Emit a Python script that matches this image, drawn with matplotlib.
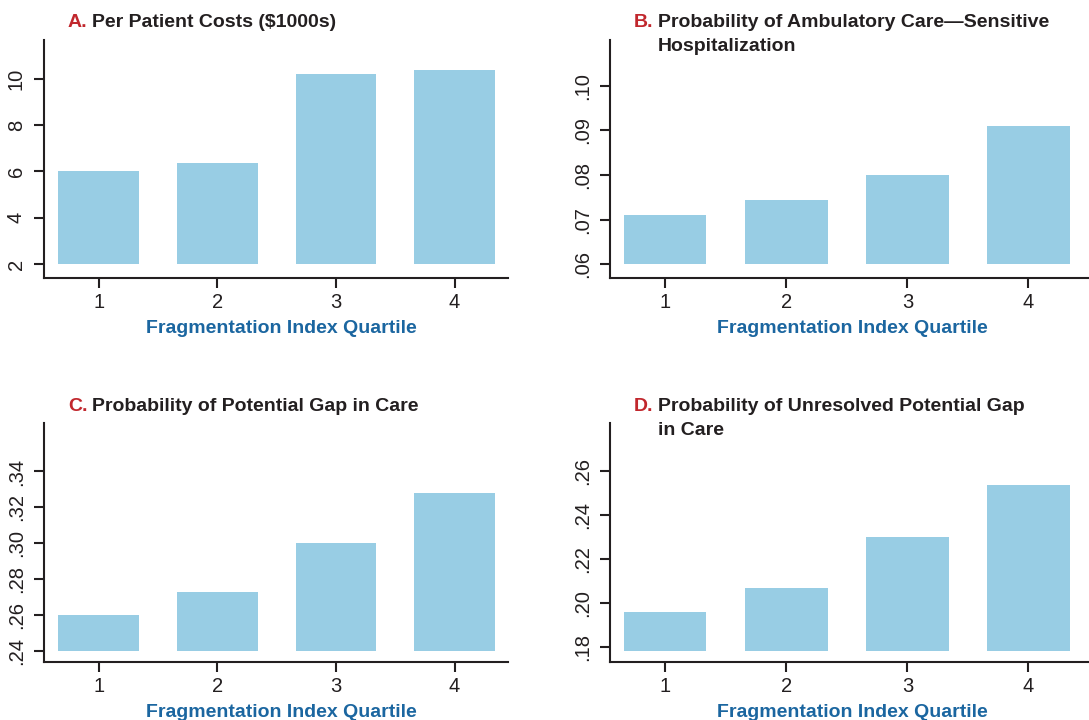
import numpy as np
import matplotlib
matplotlib.use("Agg")
import matplotlib.pyplot as plt

plt.rcParams["font.family"] = ["Liberation Sans", "DejaVu Sans"]

# data
quartiles = [1, 2, 3, 4]
costs = [6.0, 6.35, 10.2, 10.37]
acsh = [0.0710, 0.0744, 0.0800, 0.0911]
gap = [0.260, 0.273, 0.300, 0.328]
unresolved = [0.196, 0.207, 0.230, 0.254]

panels = [
    dict(letter="A.", title=["Per Patient Costs ($1000s)"], vals=costs, base=2,
         yticks=[2, 4, 6, 8, 10], ylim=(1.4, 11.67), fmt="int"),
    dict(letter="B.", title=["Probability of Ambulatory Care\u2014Sensitive", "Hospitalization"],
         vals=acsh, base=0.06, yticks=[0.06, 0.07, 0.08, 0.09, 0.10],
         ylim=(0.0569, 0.1103), fmt="dec"),
    dict(letter="C.", title=["Probability of Potential Gap in Care"], vals=gap, base=0.24,
         yticks=[0.24, 0.26, 0.28, 0.30, 0.32, 0.34], ylim=(0.2339, 0.367), fmt="dec"),
    dict(letter="D.", title=["Probability of Unresolved Potential Gap", "in Care"],
         vals=unresolved, base=0.1785, yticks=[0.18, 0.20, 0.22, 0.24, 0.26],
         ylim=(0.1734, 0.282), fmt="dec"),
]

BAR = "#98cde4"
DARK = "#231f20"
RED = "#c1272d"
BLUE = "#1b66a0"

W, H = 1089, 720
fig = plt.figure(figsize=(W / 100, H / 100), dpi=100)

# axes boxes in pixels: left, top, right, bottom
boxes = [(44, 40, 508, 278), (610, 40, 1089, 278),
         (44, 423, 508, 662), (610, 423, 1089, 662)]
xlims = [(0.54, 4.45), (0.543, 4.50), (0.54, 4.45), (0.543, 4.50)]
# title anchor (letter x, text x, first baseline) in pixels
title_pos = [(68, 92.5, 27), (634, 657.5, 27), (68, 92.5, 411), (634, 657.5, 411)]
xlabel_x = [0.512, 0.505, 0.512, 0.505]


def px(x, y):
    return x / W, 1 - y / H


for p, box, xl, tp, lx_frac in zip(panels, boxes, xlims, title_pos, xlabel_x):
    l, t, r, b = box
    ax = fig.add_axes([l / W, 1 - b / H, (r - l) / W, (b - t) / H])
    heights = np.array(p["vals"]) - p["base"]
    ax.bar(quartiles, heights, bottom=p["base"], width=0.68, color=BAR, linewidth=0)

    ax.set_xlim(*xl)
    ax.set_ylim(*p["ylim"])
    ax.set_xticks(quartiles)
    ax.set_yticks(p["yticks"])
    if p["fmt"] == "int":
        ax.set_yticklabels([f"{v:g}" for v in p["yticks"]])
    else:
        ax.set_yticklabels([f"{v:.2f}".lstrip("0") for v in p["yticks"]])

    for s in ("top", "right"):
        ax.spines[s].set_visible(False)
    for s in ("left", "bottom"):
        ax.spines[s].set_linewidth(1.5)
        ax.spines[s].set_color(DARK)

    ax.tick_params(axis="both", length=7, width=1.5, color=DARK,
                   labelsize=14.5, labelcolor=DARK)
    ax.tick_params(axis="y", labelrotation=90, pad=6)
    ax.tick_params(axis="x", pad=4)
    for lab in ax.get_yticklabels():
        lab.set_va("center")

    ax.set_xlabel("Fragmentation Index Quartile", fontsize=14, fontweight="bold",
                  color=BLUE)
    ax.xaxis.set_label_coords(lx_frac, -55 / (b - t) + 0.0, transform=ax.transAxes)
    ax.xaxis.label.set_va("baseline")

    lx, tx, by = tp
    fig.text(*px(lx, by), p["letter"], color=RED, fontsize=14, fontweight="bold",
             va="baseline", ha="left")
    for i, line in enumerate(p["title"]):
        fig.text(*px(tx, by + 24 * i), line, color=DARK, fontsize=14,
                 fontweight="bold", va="baseline", ha="left")

fig.savefig("out.png", dpi=100)
